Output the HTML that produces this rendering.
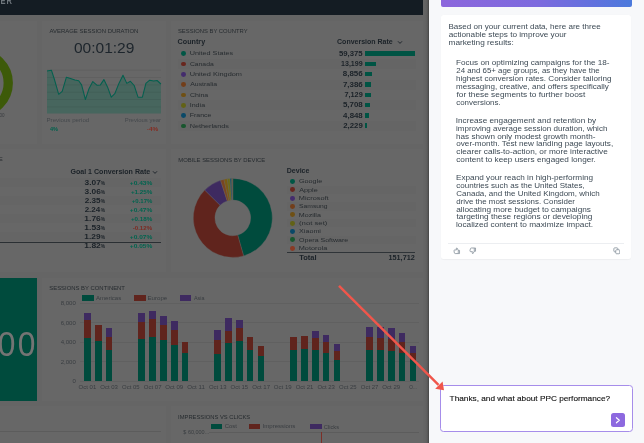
<!DOCTYPE html>
<html><head><meta charset="utf-8"><title>Dashboard</title>
<style>
html,body{margin:0;padding:0;background:#f7f8fa;}
#root{position:relative;width:644px;height:443px;overflow:hidden;font-family:"Liberation Sans",sans-serif;}
.r{position:absolute;display:block;}
.t{position:absolute;white-space:nowrap;display:block;}
</style></head><body><div id="root">
<div class="r" style="left:0.00px;top:0.00px;width:429.00px;height:443.00px;background:#656565;"></div>
<div class="r" style="left:0.00px;top:0.00px;width:423.40px;height:14.60px;background:#141c23;"></div>
<span id="t0" class="t" style="left:0px;transform-origin:0 50%;transform:translate(0.40px,0.82px) scaleX(0.7200);top:-6px;font-size:10.5px;line-height:10.5px;font-weight:700;color:#6f767c;letter-spacing:1.6px;">ER</span>
<div class="r" style="left:-5.00px;top:21.00px;width:42.00px;height:123.00px;background:#676767;"></div>
<div class="r" style="left:42.00px;top:21.00px;width:124.00px;height:123.00px;background:#676767;"></div>
<div class="r" style="left:171.00px;top:21.00px;width:252.40px;height:123.00px;background:#676767;"></div>
<div class="r" style="left:-5.00px;top:148.80px;width:171.00px;height:123.00px;background:#676767;"></div>
<div class="r" style="left:171.00px;top:148.80px;width:252.40px;height:123.00px;background:#676767;"></div>
<div class="r" style="left:-5.00px;top:277.70px;width:42.00px;height:123.30px;background:#676767;"></div>
<div class="r" style="left:42.00px;top:277.70px;width:381.40px;height:123.30px;background:#676767;"></div>
<div class="r" style="left:-5.00px;top:406.00px;width:171.00px;height:60.00px;background:#676767;"></div>
<div class="r" style="left:171.00px;top:406.00px;width:252.40px;height:60.00px;background:#676767;"></div>
<svg class="r" style="left:0;top:40px" width="40" height="90" viewBox="0 40 40 90"><circle cx="-21.8" cy="83" r="30.05" fill="none" stroke="#3d5a09" stroke-width="9.3"/></svg>
<span id="t1" class="t" style="left:-1px;transform-origin:0 50%;transform:translate(0.50px,0.53px) scaleX(1.0000);top:113px;font-size:4.5px;line-height:4.5px;font-weight:400;color:#3a3d40;">00</span>
<span id="t2" class="t" style="left:49px;transform-origin:0 50%;transform:translate(0.40px,0.09px) scaleX(0.9648);top:28px;font-size:6.2px;line-height:6.2px;font-weight:400;color:#262b2f;">AVERAGE SESSION DURATION</span>
<span id="t3" class="t" style="left:73px;transform-origin:0 50%;transform:translate(0.90px,0.78px) scaleX(1.0097);top:39px;font-size:15.4px;line-height:15.4px;font-weight:400;color:#1d252c;">00:01:29</span>
<svg class="r" style="left:0;top:0" width="430" height="443" viewBox="0 0 430 443"><polygon points="47.0,71.1 51.4,70.2 54.3,79.0 58.7,94.3 62.2,91.3 66.4,77.2 70.5,78.4 74.9,79.9 78.7,80.8 81.6,84.9 85.4,99.5 89.0,88.7 92.8,81.6 96.9,85.2 100.4,84.9 103.9,79.6 107.5,86.9 111.3,97.2 114.8,93.7 118.9,83.4 123.0,75.2 126.8,83.4 130.4,81.3 134.2,85.5 138.0,97.2 142.4,97.2 145.9,83.4 149.7,80.2 153.6,81.1 157.1,80.5 160.9,84.0 161,113.4 47,113.4" fill="#47665e"/><line x1="47" x2="161" y1="70.2" y2="70.2" stroke="#000" stroke-opacity="0.09" stroke-width="0.7"/><line x1="47" x2="161" y1="77.5" y2="77.5" stroke="#000" stroke-opacity="0.09" stroke-width="0.7"/><line x1="47" x2="161" y1="84.9" y2="84.9" stroke="#000" stroke-opacity="0.09" stroke-width="0.7"/><line x1="47" x2="161" y1="92.2" y2="92.2" stroke="#000" stroke-opacity="0.09" stroke-width="0.7"/><line x1="47" x2="161" y1="99.5" y2="99.5" stroke="#000" stroke-opacity="0.09" stroke-width="0.7"/><line x1="47" x2="161" y1="106.9" y2="106.9" stroke="#000" stroke-opacity="0.09" stroke-width="0.7"/><polyline points="47.0,71.1 51.4,70.2 54.3,79.0 58.7,94.3 62.2,91.3 66.4,77.2 70.5,78.4 74.9,79.9 78.7,80.8 81.6,84.9 85.4,99.5 89.0,88.7 92.8,81.6 96.9,85.2 100.4,84.9 103.9,79.6 107.5,86.9 111.3,97.2 114.8,93.7 118.9,83.4 123.0,75.2 126.8,83.4 130.4,81.3 134.2,85.5 138.0,97.2 142.4,97.2 145.9,83.4 149.7,80.2 153.6,81.1 157.1,80.5 160.9,84.0" fill="none" stroke="#04604f" stroke-width="1.05" stroke-linejoin="round"/></svg>
<span id="t4" class="t" style="left:46px;transform-origin:0 50%;transform:translate(0.50px,0.67px) scaleX(1.1004);top:117px;font-size:5.6px;line-height:5.6px;font-weight:400;color:#45494d;">Previous period</span>
<span id="t5" class="t" style="right:484px;transform-origin:100% 50%;transform:translate(0.75px,0.67px) scaleX(1.0602);top:117px;font-size:5.6px;line-height:5.6px;font-weight:400;color:#45494d;">Previous year</span>
<span id="t6" class="t" style="left:50px;transform-origin:0 50%;transform:translate(0.00px,0.12px) scaleX(0.9921);top:127px;font-size:5.6px;line-height:5.6px;font-weight:700;color:#00614d;">4%</span>
<span id="t7" class="t" style="right:486px;transform-origin:100% 50%;transform:translate(0.25px,0.12px) scaleX(1.1478);top:127px;font-size:5.6px;line-height:5.6px;font-weight:700;color:#852c22;">-4%</span>
<span id="t8" class="t" style="left:177px;transform-origin:0 50%;transform:translate(0.95px,0.09px) scaleX(0.9453);top:28px;font-size:6.2px;line-height:6.2px;font-weight:400;color:#262b2f;">SESSIONS BY COUNTRY</span>
<span id="t9" class="t" style="left:177px;transform-origin:0 50%;transform:translate(0.60px,0.33px) scaleX(1.1407);top:39px;font-size:6.3px;line-height:6.3px;font-weight:700;color:#1b2228;">Country</span>
<span id="t10" class="t" style="left:337px;transform-origin:0 50%;transform:translate(0.05px,0.72px) scaleX(1.1132);top:38px;font-size:6.3px;line-height:6.3px;font-weight:700;color:#1b2228;">Conversion Rate</span>
<svg class="r" style="left:396.5px;top:39.6px" width="6" height="5" viewBox="0 0 6 5"><path d="M1 1.3 L3 3.4 L5 1.3" fill="none" stroke="#1b2228" stroke-width="0.95"/></svg>
<div class="r" style="left:181.1px;top:51.30px;width:4.8px;height:4.8px;border-radius:50%;background:#005645"></div>
<span id="t11" class="t" style="left:189px;transform-origin:0 50%;transform:translate(0.70px,0.46px) scaleX(1.2704);top:51px;font-size:5.7px;line-height:5.7px;font-weight:400;color:#262b2f;">United States</span>
<span id="t12" class="t" style="right:282px;transform-origin:100% 50%;transform:translate(0.20px,0.92px) scaleX(1.1036);top:49px;font-size:7px;line-height:7px;font-weight:700;color:#1b2228;">59,375</span>
<div class="r" style="left:365.00px;top:51.25px;width:49.80px;height:4.50px;background:#005444;"></div>
<div class="r" style="left:178.00px;top:58.92px;width:238.00px;height:10.30px;background:#656565;"></div>
<div class="r" style="left:181.1px;top:61.62px;width:4.8px;height:4.8px;border-radius:50%;background:#68261e"></div>
<span id="t13" class="t" style="left:189px;transform-origin:0 50%;transform:translate(0.95px,0.67px) scaleX(1.1901);top:61px;font-size:5.7px;line-height:5.7px;font-weight:400;color:#262b2f;">Canada</span>
<span id="t14" class="t" style="right:282px;transform-origin:100% 50%;transform:translate(0.20px,0.88px) scaleX(1.0056);top:59px;font-size:7px;line-height:7px;font-weight:700;color:#1b2228;">13,199</span>
<div class="r" style="left:365.00px;top:61.57px;width:11.00px;height:4.50px;background:#005444;"></div>
<div class="r" style="left:181.1px;top:71.94px;width:4.8px;height:4.8px;border-radius:50%;background:#442c6d"></div>
<span id="t15" class="t" style="left:189px;transform-origin:0 50%;transform:translate(0.70px,0.97px) scaleX(1.2923);top:71px;font-size:5.7px;line-height:5.7px;font-weight:400;color:#262b2f;">United Kingdom</span>
<span id="t16" class="t" style="right:281px;transform-origin:100% 50%;transform:translate(0.20px,0.44px) scaleX(1.1377);top:70px;font-size:7px;line-height:7px;font-weight:700;color:#1b2228;">8,856</span>
<div class="r" style="left:365.00px;top:71.89px;width:7.40px;height:4.50px;background:#005444;"></div>
<div class="r" style="left:178.00px;top:79.56px;width:238.00px;height:10.30px;background:#656565;"></div>
<div class="r" style="left:181.1px;top:82.26px;width:4.8px;height:4.8px;border-radius:50%;background:#723e1a"></div>
<span id="t17" class="t" style="left:190px;transform-origin:0 50%;transform:translate(0.20px,0.17px) scaleX(1.2151);top:82px;font-size:5.7px;line-height:5.7px;font-weight:400;color:#262b2f;">Australia</span>
<span id="t18" class="t" style="right:281px;transform-origin:100% 50%;transform:translate(0.20px,0.76px) scaleX(1.1322);top:80px;font-size:7px;line-height:7px;font-weight:700;color:#1b2228;">7,386</span>
<div class="r" style="left:365.00px;top:82.21px;width:6.20px;height:4.50px;background:#005444;"></div>
<div class="r" style="left:181.1px;top:92.58px;width:4.8px;height:4.8px;border-radius:50%;background:#6f5014"></div>
<span id="t19" class="t" style="left:189px;transform-origin:0 50%;transform:translate(0.95px,0.86px) scaleX(1.2288);top:92px;font-size:5.7px;line-height:5.7px;font-weight:400;color:#262b2f;">China</span>
<span id="t20" class="t" style="right:281px;transform-origin:100% 50%;transform:translate(0.20px,0.08px) scaleX(1.0405);top:91px;font-size:7px;line-height:7px;font-weight:700;color:#1b2228;">7,129</span>
<div class="r" style="left:365.00px;top:92.53px;width:5.90px;height:4.50px;background:#005444;"></div>
<div class="r" style="left:178.00px;top:100.20px;width:238.00px;height:10.30px;background:#656565;"></div>
<div class="r" style="left:181.1px;top:102.90px;width:4.8px;height:4.8px;border-radius:50%;background:#626216"></div>
<span id="t21" class="t" style="left:189px;transform-origin:0 50%;transform:translate(0.70px,0.94px) scaleX(1.2464);top:102px;font-size:5.7px;line-height:5.7px;font-weight:400;color:#262b2f;">India</span>
<span id="t22" class="t" style="right:281px;transform-origin:100% 50%;transform:translate(0.20px,0.39px) scaleX(1.1322);top:101px;font-size:7px;line-height:7px;font-weight:700;color:#1b2228;">5,708</span>
<div class="r" style="left:365.00px;top:102.85px;width:4.70px;height:4.50px;background:#005444;"></div>
<div class="r" style="left:181.1px;top:113.22px;width:4.8px;height:4.8px;border-radius:50%;background:#0a4968"></div>
<span id="t23" class="t" style="left:189px;transform-origin:0 50%;transform:translate(0.70px,0.31px) scaleX(1.2257);top:113px;font-size:5.7px;line-height:5.7px;font-weight:400;color:#262b2f;">France</span>
<span id="t24" class="t" style="right:281px;transform-origin:100% 50%;transform:translate(0.20px,0.60px) scaleX(1.1202);top:111px;font-size:7px;line-height:7px;font-weight:700;color:#1b2228;">4,848</span>
<div class="r" style="left:365.00px;top:113.17px;width:3.80px;height:4.50px;background:#005444;"></div>
<div class="r" style="left:178.00px;top:120.84px;width:238.00px;height:10.30px;background:#656565;"></div>
<div class="r" style="left:181.1px;top:123.54px;width:4.8px;height:4.8px;border-radius:50%;background:#18562e"></div>
<span id="t25" class="t" style="left:189px;transform-origin:0 50%;transform:translate(0.70px,0.70px) scaleX(1.2761);top:123px;font-size:5.7px;line-height:5.7px;font-weight:400;color:#262b2f;">Netherlands</span>
<span id="t26" class="t" style="right:281px;transform-origin:100% 50%;transform:translate(0.20px,0.92px) scaleX(1.1086);top:121px;font-size:7px;line-height:7px;font-weight:700;color:#1b2228;">2,229</span>
<div class="r" style="left:365.00px;top:123.49px;width:1.80px;height:4.50px;background:#005444;"></div>
<span id="t27" class="t" style="left:-2px;transform-origin:0 50%;transform:translate(0.80px,0.10px) scaleX(1.0000);top:156px;font-size:6px;line-height:6px;font-weight:400;color:#262b2f;">E</span>
<span id="t28" class="t" style="left:70px;transform-origin:0 50%;transform:translate(0.40px,0.68px) scaleX(1.1238);top:168px;font-size:6.3px;line-height:6.3px;font-weight:700;color:#1b2228;">Goal 1 Conversion Rate</span>
<svg class="r" style="left:151.6px;top:169.8px" width="6" height="5" viewBox="0 0 6 5"><path d="M1 1.3 L3 3.4 L5 1.3" fill="none" stroke="#1b2228" stroke-width="0.95"/></svg>
<div class="r" style="left:0.00px;top:178.10px;width:161.00px;height:9.00px;background:#656565;"></div>
<span id="t29" class="t" style="right:540px;transform-origin:100% 50%;transform:translate(0.75px,0.88px) scaleX(0.8120);top:179px;font-size:6px;line-height:6px;font-weight:700;color:#1b2228;">%</span>
<span id="t30" class="t" style="right:544px;transform-origin:100% 50%;transform:translate(0.80px,0.19px) scaleX(1.1589);top:179px;font-size:7.2px;line-height:7.2px;font-weight:700;color:#1b2228;">3.07</span>
<span id="t31" class="t" style="right:492px;transform-origin:100% 50%;transform:translate(0.15px,0.82px) scaleX(1.1738);top:180px;font-size:5.6px;line-height:5.6px;font-weight:700;color:#00644f;">+0.43%</span>
<span id="t32" class="t" style="right:540px;transform-origin:100% 50%;transform:translate(0.75px,0.98px) scaleX(0.8120);top:188px;font-size:6px;line-height:6px;font-weight:700;color:#1b2228;">%</span>
<span id="t33" class="t" style="right:544px;transform-origin:100% 50%;transform:translate(0.80px,0.05px) scaleX(1.1571);top:188px;font-size:7.2px;line-height:7.2px;font-weight:700;color:#1b2228;">3.06</span>
<span id="t34" class="t" style="right:492px;transform-origin:100% 50%;transform:translate(0.15px,0.92px) scaleX(1.1178);top:189px;font-size:5.6px;line-height:5.6px;font-weight:700;color:#00644f;">+1.25%</span>
<div class="r" style="left:0.00px;top:196.30px;width:161.00px;height:9.00px;background:#656565;"></div>
<span id="t35" class="t" style="right:540px;transform-origin:100% 50%;transform:translate(0.75px,0.08px) scaleX(0.8120);top:198px;font-size:6px;line-height:6px;font-weight:700;color:#1b2228;">%</span>
<span id="t36" class="t" style="right:544px;transform-origin:100% 50%;transform:translate(0.55px,0.27px) scaleX(1.1374);top:197px;font-size:7.2px;line-height:7.2px;font-weight:700;color:#1b2228;">2.35</span>
<span id="t37" class="t" style="right:492px;transform-origin:100% 50%;transform:translate(0.15px,0.02px) scaleX(1.0672);top:199px;font-size:5.6px;line-height:5.6px;font-weight:700;color:#00644f;">+0.17%</span>
<span id="t38" class="t" style="right:540px;transform-origin:100% 50%;transform:translate(0.75px,0.18px) scaleX(0.8120);top:207px;font-size:6px;line-height:6px;font-weight:700;color:#1b2228;">%</span>
<span id="t39" class="t" style="right:544px;transform-origin:100% 50%;transform:translate(0.30px,0.25px) scaleX(1.1186);top:206px;font-size:7.2px;line-height:7.2px;font-weight:700;color:#1b2228;">2.24</span>
<span id="t40" class="t" style="right:492px;transform-origin:100% 50%;transform:translate(0.15px,0.12px) scaleX(1.1738);top:208px;font-size:5.6px;line-height:5.6px;font-weight:700;color:#00644f;">+0.47%</span>
<div class="r" style="left:0.00px;top:214.30px;width:161.00px;height:9.00px;background:#656565;"></div>
<span id="t41" class="t" style="right:540px;transform-origin:100% 50%;transform:translate(0.75px,0.08px) scaleX(0.8120);top:216px;font-size:6px;line-height:6px;font-weight:700;color:#1b2228;">%</span>
<span id="t42" class="t" style="right:544px;transform-origin:100% 50%;transform:translate(0.80px,0.17px) scaleX(1.1759);top:215px;font-size:7.2px;line-height:7.2px;font-weight:700;color:#1b2228;">1.76</span>
<span id="t43" class="t" style="right:492px;transform-origin:100% 50%;transform:translate(0.15px,0.02px) scaleX(1.1178);top:217px;font-size:5.6px;line-height:5.6px;font-weight:700;color:#00644f;">+0.18%</span>
<span id="t44" class="t" style="right:540px;transform-origin:100% 50%;transform:translate(0.75px,0.98px) scaleX(0.8120);top:224px;font-size:6px;line-height:6px;font-weight:700;color:#1b2228;">%</span>
<span id="t45" class="t" style="right:544px;transform-origin:100% 50%;transform:translate(0.80px,0.89px) scaleX(1.1759);top:223px;font-size:7.2px;line-height:7.2px;font-weight:700;color:#1b2228;">1.53</span>
<span id="t46" class="t" style="right:492px;transform-origin:100% 50%;transform:translate(0.40px,0.92px) scaleX(1.0946);top:225px;font-size:5.6px;line-height:5.6px;font-weight:700;color:#7d2a22;">-0.12%</span>
<div class="r" style="left:0.00px;top:232.20px;width:161.00px;height:9.00px;background:#656565;"></div>
<span id="t47" class="t" style="right:540px;transform-origin:100% 50%;transform:translate(0.75px,0.98px) scaleX(0.8120);top:233px;font-size:6px;line-height:6px;font-weight:700;color:#1b2228;">%</span>
<span id="t48" class="t" style="right:544px;transform-origin:100% 50%;transform:translate(0.55px,0.05px) scaleX(1.1566);top:233px;font-size:7.2px;line-height:7.2px;font-weight:700;color:#1b2228;">1.29</span>
<span id="t49" class="t" style="right:492px;transform-origin:100% 50%;transform:translate(0.15px,0.92px) scaleX(1.1738);top:234px;font-size:5.6px;line-height:5.6px;font-weight:700;color:#00644f;">+0.07%</span>
<span id="t50" class="t" style="right:540px;transform-origin:100% 50%;transform:translate(0.75px,0.48px) scaleX(0.8120);top:243px;font-size:6px;line-height:6px;font-weight:700;color:#1b2228;">%</span>
<span id="t51" class="t" style="right:544px;transform-origin:100% 50%;transform:translate(0.80px,0.42px) scaleX(1.1759);top:242px;font-size:7.2px;line-height:7.2px;font-weight:700;color:#1b2228;">1.82</span>
<span id="t52" class="t" style="right:492px;transform-origin:100% 50%;transform:translate(0.15px,0.42px) scaleX(1.1738);top:244px;font-size:5.6px;line-height:5.6px;font-weight:700;color:#00644f;">+0.05%</span>
<div class="r" style="left:0.00px;top:241.50px;width:161.00px;height:0.90px;background:#2a2f33;"></div>
<span id="t53" class="t" style="left:178px;transform-origin:0 50%;transform:translate(0.25px,0.79px) scaleX(0.9518);top:156px;font-size:6.2px;line-height:6.2px;font-weight:400;color:#262b2f;">MOBILE SESSIONS BY DEVICE</span>
<svg class="r" style="left:0;top:0" width="430" height="443" viewBox="0 0 430 443"><path d="M232.80 178.40 A39.50 39.50 0 0 1 243.62 255.89 L237.70 235.12 A17.90 17.90 0 0 0 232.80 200.00 Z" fill="#004b3d" stroke="#686868" stroke-width="0.35"/><path d="M243.62 255.89 A39.50 39.50 0 0 1 204.72 190.12 L220.08 205.31 A17.90 17.90 0 0 0 237.70 235.12 Z" fill="#60241d" stroke="#686868" stroke-width="0.35"/><path d="M204.72 190.12 A39.50 39.50 0 0 1 220.53 180.35 L227.24 200.89 A17.90 17.90 0 0 0 220.08 205.31 Z" fill="#3e2a60" stroke="#686868" stroke-width="0.35"/><path d="M220.53 180.35 A39.50 39.50 0 0 1 223.91 179.41 L228.77 200.46 A17.90 17.90 0 0 0 227.24 200.89 Z" fill="#7a4520" stroke="#686868" stroke-width="0.35"/><path d="M223.91 179.41 A39.50 39.50 0 0 1 227.30 178.78 L230.31 200.17 A17.90 17.90 0 0 0 228.77 200.46 Z" fill="#7a5a12" stroke="#686868" stroke-width="0.35"/><path d="M227.30 178.78 A39.50 39.50 0 0 1 230.04 178.50 L231.55 200.04 A17.90 17.90 0 0 0 230.31 200.17 Z" fill="#6a6a16" stroke="#686868" stroke-width="0.35"/><path d="M230.04 178.50 A39.50 39.50 0 0 1 231.42 178.42 L232.18 200.01 A17.90 17.90 0 0 0 231.55 200.04 Z" fill="#0b4a6a" stroke="#686868" stroke-width="0.35"/><path d="M231.42 178.42 A39.50 39.50 0 0 1 232.25 178.40 L232.55 200.00 A17.90 17.90 0 0 0 232.18 200.01 Z" fill="#1f5a30" stroke="#686868" stroke-width="0.35"/><path d="M232.25 178.40 A39.50 39.50 0 0 1 232.80 178.40 L232.80 200.00 A17.90 17.90 0 0 0 232.55 200.00 Z" fill="#7a3a22" stroke="#686868" stroke-width="0.35"/></svg>
<span id="t54" class="t" style="left:286px;transform-origin:0 50%;transform:translate(0.75px,0.25px) scaleX(1.1164);top:168px;font-size:6.3px;line-height:6.3px;font-weight:700;color:#1b2228;">Device</span>
<div class="r" style="left:290.3px;top:179.10px;width:4.8px;height:4.8px;border-radius:50%;background:#005645"></div>
<span id="t55" class="t" style="left:299px;transform-origin:0 50%;transform:translate(0.00px,0.25px) scaleX(1.2432);top:179px;font-size:5.8px;line-height:5.8px;font-weight:400;color:#262b2f;">Google</span>
<div class="r" style="left:287.00px;top:185.64px;width:129.00px;height:8.30px;background:#656565;"></div>
<div class="r" style="left:290.3px;top:187.44px;width:4.8px;height:4.8px;border-radius:50%;background:#68261e"></div>
<span id="t56" class="t" style="left:299px;transform-origin:0 50%;transform:translate(0.25px,0.68px) scaleX(1.2416);top:187px;font-size:5.8px;line-height:5.8px;font-weight:400;color:#262b2f;">Apple</span>
<div class="r" style="left:290.3px;top:195.78px;width:4.8px;height:4.8px;border-radius:50%;background:#442c6d"></div>
<span id="t57" class="t" style="left:298px;transform-origin:0 50%;transform:translate(0.75px,0.34px) scaleX(1.2685);top:196px;font-size:5.8px;line-height:5.8px;font-weight:400;color:#262b2f;">Microsoft</span>
<div class="r" style="left:287.00px;top:202.32px;width:129.00px;height:8.30px;background:#656565;"></div>
<div class="r" style="left:290.3px;top:204.12px;width:4.8px;height:4.8px;border-radius:50%;background:#723e1a"></div>
<span id="t58" class="t" style="left:299px;transform-origin:0 50%;transform:translate(0.00px,0.36px) scaleX(1.1643);top:204px;font-size:5.8px;line-height:5.8px;font-weight:400;color:#262b2f;">Samsung</span>
<div class="r" style="left:290.3px;top:212.46px;width:4.8px;height:4.8px;border-radius:50%;background:#6f5014"></div>
<span id="t59" class="t" style="left:298px;transform-origin:0 50%;transform:translate(0.75px,0.02px) scaleX(1.2277);top:213px;font-size:5.8px;line-height:5.8px;font-weight:400;color:#262b2f;">Mozilla</span>
<div class="r" style="left:287.00px;top:219.00px;width:129.00px;height:8.30px;background:#656565;"></div>
<div class="r" style="left:290.3px;top:220.80px;width:4.8px;height:4.8px;border-radius:50%;background:#626216"></div>
<span id="t60" class="t" style="left:299px;transform-origin:0 50%;transform:translate(0.00px,0.20px) scaleX(1.3360);top:221px;font-size:5.8px;line-height:5.8px;font-weight:400;color:#262b2f;">(not set)</span>
<div class="r" style="left:290.3px;top:229.14px;width:4.8px;height:4.8px;border-radius:50%;background:#0a4968"></div>
<span id="t61" class="t" style="left:299px;transform-origin:0 50%;transform:translate(0.00px,0.52px) scaleX(1.2400);top:228px;font-size:5.8px;line-height:5.8px;font-weight:400;color:#262b2f;">Xiaomi</span>
<div class="r" style="left:287.00px;top:235.68px;width:129.00px;height:8.30px;background:#656565;"></div>
<div class="r" style="left:290.3px;top:237.48px;width:4.8px;height:4.8px;border-radius:50%;background:#18562e"></div>
<span id="t62" class="t" style="left:299px;transform-origin:0 50%;transform:translate(0.00px,0.88px) scaleX(1.2132);top:237px;font-size:5.8px;line-height:5.8px;font-weight:400;color:#262b2f;">Opera Software</span>
<div class="r" style="left:290.3px;top:245.82px;width:4.8px;height:4.8px;border-radius:50%;background:#8a3a24"></div>
<span id="t63" class="t" style="left:298px;transform-origin:0 50%;transform:translate(0.75px,0.13px) scaleX(1.2619);top:246px;font-size:5.8px;line-height:5.8px;font-weight:400;color:#262b2f;">Motorola</span>
<div class="r" style="left:287.10px;top:252.20px;width:128.40px;height:1.00px;background:#2f3438;"></div>
<span id="t64" class="t" style="left:299px;transform-origin:0 50%;transform:translate(0.25px,0.71px) scaleX(1.1690);top:254px;font-size:6.4px;line-height:6.4px;font-weight:700;color:#1b2228;">Total</span>
<span id="t65" class="t" style="right:230px;transform-origin:100% 50%;transform:translate(0.60px,0.87px) scaleX(1.1319);top:254px;font-size:6.4px;line-height:6.4px;font-weight:700;color:#1b2228;">151,712</span>
<div class="r" style="left:0.00px;top:277.70px;width:37.10px;height:123.30px;background:#004b3d;"></div>
<span id="t66" class="t" style="left:17px;transform-origin:0 50%;transform:translate(0.65px,0.49px) scaleX(0.9093);top:326px;font-size:35px;line-height:35px;font-weight:400;color:#747474;">0</span>
<span id="t67" class="t" style="left:-3px;transform-origin:0 50%;transform:translate(0.85px,0.49px) scaleX(0.9093);top:326px;font-size:35px;line-height:35px;font-weight:400;color:#747474;">0</span>
<span id="t68" class="t" style="left:49px;transform-origin:0 50%;transform:translate(0.25px,0.39px) scaleX(0.9547);top:285px;font-size:6.2px;line-height:6.2px;font-weight:400;color:#262b2f;">SESSIONS BY CONTINENT</span>
<div class="r" style="left:82.00px;top:295.00px;width:11.60px;height:6.00px;background:#004b3d;"></div>
<span id="t69" class="t" style="left:96px;transform-origin:0 50%;transform:translate(0.00px,0.53px) scaleX(1.1204);top:295px;font-size:5.4px;line-height:5.4px;font-weight:400;color:#393d41;">Americas</span>
<div class="r" style="left:134.00px;top:295.00px;width:11.60px;height:6.00px;background:#60241d;"></div>
<span id="t70" class="t" style="left:147px;transform-origin:0 50%;transform:translate(0.50px,0.53px) scaleX(1.1360);top:295px;font-size:5.4px;line-height:5.4px;font-weight:400;color:#393d41;">Europe</span>
<div class="r" style="left:179.50px;top:295.00px;width:11.60px;height:6.00px;background:#3e2a60;"></div>
<span id="t71" class="t" style="left:194px;transform-origin:0 50%;transform:translate(0.00px,0.53px) scaleX(0.9978);top:295px;font-size:5.4px;line-height:5.4px;font-weight:400;color:#393d41;">Asia</span>
<span id="t72" class="t" style="right:569px;transform-origin:100% 50%;transform:translate(0.25px,0.98px) scaleX(1.1200);top:300px;font-size:5.4px;line-height:5.4px;font-weight:400;color:#393d41;">8,000</span>
<div class="r" style="left:80.00px;top:302.90px;width:339.00px;height:0.60px;background:#606060;"></div>
<span id="t73" class="t" style="right:569px;transform-origin:100% 50%;transform:translate(0.25px,0.38px) scaleX(1.1200);top:321px;font-size:5.4px;line-height:5.4px;font-weight:400;color:#393d41;">6,000</span>
<div class="r" style="left:80.00px;top:322.30px;width:339.00px;height:0.60px;background:#606060;"></div>
<span id="t74" class="t" style="right:569px;transform-origin:100% 50%;transform:translate(0.25px,0.88px) scaleX(1.1200);top:339px;font-size:5.4px;line-height:5.4px;font-weight:400;color:#393d41;">4,000</span>
<div class="r" style="left:80.00px;top:341.80px;width:339.00px;height:0.60px;background:#606060;"></div>
<span id="t75" class="t" style="right:569px;transform-origin:100% 50%;transform:translate(0.25px,0.48px) scaleX(1.1200);top:360px;font-size:5.4px;line-height:5.4px;font-weight:400;color:#393d41;">2,000</span>
<div class="r" style="left:80.00px;top:361.40px;width:339.00px;height:0.60px;background:#606060;"></div>
<span id="t76" class="t" style="right:569px;transform-origin:100% 50%;transform:translate(0.75px,0.08px) scaleX(1.1200);top:379px;font-size:5.4px;line-height:5.4px;font-weight:400;color:#393d41;">0</span>
<div class="r" style="left:80.00px;top:381.00px;width:339.00px;height:0.60px;background:#606060;"></div>
<div class="r" style="left:84.20px;top:313.20px;width:6.50px;height:67.70px;background:#3e2a60;"></div>
<div class="r" style="left:84.20px;top:320.30px;width:6.50px;height:60.60px;background:#60241d;"></div>
<div class="r" style="left:84.20px;top:337.60px;width:6.50px;height:43.30px;background:#004b3d;"></div>
<div class="r" style="left:95.05px;top:324.90px;width:6.50px;height:56.00px;background:#60241d;"></div>
<div class="r" style="left:95.05px;top:341.40px;width:6.50px;height:39.50px;background:#004b3d;"></div>
<div class="r" style="left:105.90px;top:327.60px;width:6.50px;height:53.30px;background:#3e2a60;"></div>
<div class="r" style="left:105.90px;top:336.50px;width:6.50px;height:44.40px;background:#60241d;"></div>
<div class="r" style="left:105.90px;top:350.30px;width:6.50px;height:30.60px;background:#004b3d;"></div>
<div class="r" style="left:138.45px;top:313.20px;width:6.50px;height:67.70px;background:#3e2a60;"></div>
<div class="r" style="left:138.45px;top:321.60px;width:6.50px;height:59.30px;background:#60241d;"></div>
<div class="r" style="left:138.45px;top:339.20px;width:6.50px;height:41.70px;background:#004b3d;"></div>
<div class="r" style="left:149.30px;top:310.50px;width:6.50px;height:70.40px;background:#3e2a60;"></div>
<div class="r" style="left:149.30px;top:319.20px;width:6.50px;height:61.70px;background:#60241d;"></div>
<div class="r" style="left:149.30px;top:337.00px;width:6.50px;height:43.90px;background:#004b3d;"></div>
<div class="r" style="left:160.15px;top:315.90px;width:6.50px;height:65.00px;background:#3e2a60;"></div>
<div class="r" style="left:160.15px;top:324.60px;width:6.50px;height:56.30px;background:#60241d;"></div>
<div class="r" style="left:160.15px;top:340.30px;width:6.50px;height:40.60px;background:#004b3d;"></div>
<div class="r" style="left:171.00px;top:321.00px;width:6.50px;height:59.90px;background:#3e2a60;"></div>
<div class="r" style="left:171.00px;top:330.30px;width:6.50px;height:50.60px;background:#60241d;"></div>
<div class="r" style="left:171.00px;top:344.60px;width:6.50px;height:36.30px;background:#004b3d;"></div>
<div class="r" style="left:181.85px;top:342.00px;width:6.50px;height:38.90px;background:#60241d;"></div>
<div class="r" style="left:181.85px;top:352.50px;width:6.50px;height:28.40px;background:#004b3d;"></div>
<div class="r" style="left:214.40px;top:330.00px;width:6.50px;height:50.90px;background:#3e2a60;"></div>
<div class="r" style="left:214.40px;top:339.50px;width:6.50px;height:41.40px;background:#60241d;"></div>
<div class="r" style="left:214.40px;top:354.10px;width:6.50px;height:26.80px;background:#004b3d;"></div>
<div class="r" style="left:225.25px;top:317.50px;width:6.50px;height:63.40px;background:#3e2a60;"></div>
<div class="r" style="left:225.25px;top:330.60px;width:6.50px;height:50.30px;background:#60241d;"></div>
<div class="r" style="left:225.25px;top:343.30px;width:6.50px;height:37.60px;background:#004b3d;"></div>
<div class="r" style="left:236.10px;top:320.30px;width:6.50px;height:60.60px;background:#3e2a60;"></div>
<div class="r" style="left:236.10px;top:328.10px;width:6.50px;height:52.80px;background:#60241d;"></div>
<div class="r" style="left:236.10px;top:340.90px;width:6.50px;height:40.00px;background:#004b3d;"></div>
<div class="r" style="left:246.95px;top:336.80px;width:6.50px;height:44.10px;background:#60241d;"></div>
<div class="r" style="left:246.95px;top:349.50px;width:6.50px;height:31.40px;background:#004b3d;"></div>
<div class="r" style="left:257.80px;top:345.70px;width:6.50px;height:35.20px;background:#60241d;"></div>
<div class="r" style="left:257.80px;top:356.30px;width:6.50px;height:24.60px;background:#004b3d;"></div>
<div class="r" style="left:290.35px;top:337.30px;width:6.50px;height:43.60px;background:#60241d;"></div>
<div class="r" style="left:290.35px;top:350.30px;width:6.50px;height:30.60px;background:#004b3d;"></div>
<div class="r" style="left:301.20px;top:336.20px;width:6.50px;height:44.70px;background:#60241d;"></div>
<div class="r" style="left:301.20px;top:348.70px;width:6.50px;height:32.20px;background:#004b3d;"></div>
<div class="r" style="left:312.05px;top:331.10px;width:6.50px;height:49.80px;background:#3e2a60;"></div>
<div class="r" style="left:312.05px;top:338.10px;width:6.50px;height:42.80px;background:#60241d;"></div>
<div class="r" style="left:312.05px;top:350.30px;width:6.50px;height:30.60px;background:#004b3d;"></div>
<div class="r" style="left:322.90px;top:334.60px;width:6.50px;height:46.30px;background:#3e2a60;"></div>
<div class="r" style="left:322.90px;top:341.90px;width:6.50px;height:39.00px;background:#60241d;"></div>
<div class="r" style="left:322.90px;top:352.50px;width:6.50px;height:28.40px;background:#004b3d;"></div>
<div class="r" style="left:333.75px;top:344.40px;width:6.50px;height:36.50px;background:#3e2a60;"></div>
<div class="r" style="left:333.75px;top:351.40px;width:6.50px;height:29.50px;background:#60241d;"></div>
<div class="r" style="left:333.75px;top:359.50px;width:6.50px;height:21.40px;background:#004b3d;"></div>
<div class="r" style="left:366.30px;top:327.30px;width:6.50px;height:53.60px;background:#3e2a60;"></div>
<div class="r" style="left:366.30px;top:337.30px;width:6.50px;height:43.60px;background:#60241d;"></div>
<div class="r" style="left:366.30px;top:349.50px;width:6.50px;height:31.40px;background:#004b3d;"></div>
<div class="r" style="left:377.15px;top:326.50px;width:6.50px;height:54.40px;background:#3e2a60;"></div>
<div class="r" style="left:377.15px;top:337.90px;width:6.50px;height:43.00px;background:#60241d;"></div>
<div class="r" style="left:377.15px;top:349.50px;width:6.50px;height:31.40px;background:#004b3d;"></div>
<div class="r" style="left:388.00px;top:328.10px;width:6.50px;height:52.80px;background:#3e2a60;"></div>
<div class="r" style="left:388.00px;top:339.00px;width:6.50px;height:41.90px;background:#60241d;"></div>
<div class="r" style="left:388.00px;top:351.40px;width:6.50px;height:29.50px;background:#004b3d;"></div>
<div class="r" style="left:398.85px;top:332.70px;width:6.50px;height:48.20px;background:#3e2a60;"></div>
<div class="r" style="left:398.85px;top:341.90px;width:6.50px;height:39.00px;background:#60241d;"></div>
<div class="r" style="left:398.85px;top:352.50px;width:6.50px;height:28.40px;background:#004b3d;"></div>
<div class="r" style="left:409.70px;top:346.00px;width:6.50px;height:34.90px;background:#3e2a60;"></div>
<div class="r" style="left:409.70px;top:352.80px;width:6.50px;height:28.10px;background:#60241d;"></div>
<div class="r" style="left:409.70px;top:360.40px;width:6.50px;height:20.50px;background:#004b3d;"></div>
<span id="t77" class="t" style="left:87px;transform:translate(0.41px,0.58px) translateX(-50%) scaleX(1.1089);top:384px;font-size:5.4px;line-height:5.4px;font-weight:400;color:#393d41;">Oct 01</span>
<span id="t78" class="t" style="left:109px;transform:translate(0.09px,0.58px) translateX(-50%) scaleX(1.1052);top:384px;font-size:5.4px;line-height:5.4px;font-weight:400;color:#393d41;">Oct 03</span>
<span id="t79" class="t" style="left:130px;transform:translate(0.88px,0.58px) translateX(-50%) scaleX(1.1044);top:384px;font-size:5.4px;line-height:5.4px;font-weight:400;color:#393d41;">Oct 05</span>
<span id="t80" class="t" style="left:152px;transform:translate(0.61px,0.60px) translateX(-50%) scaleX(1.1217);top:384px;font-size:5.4px;line-height:5.4px;font-weight:400;color:#393d41;">Oct 07</span>
<span id="t81" class="t" style="left:174px;transform:translate(0.27px,0.58px) translateX(-50%) scaleX(1.1224);top:384px;font-size:5.4px;line-height:5.4px;font-weight:400;color:#393d41;">Oct 09</span>
<span id="t82" class="t" style="left:196px;transform:translate(0.01px,0.58px) translateX(-50%) scaleX(1.1426);top:384px;font-size:5.4px;line-height:5.4px;font-weight:400;color:#393d41;">Oct 11</span>
<span id="t83" class="t" style="left:217px;transform:translate(0.68px,0.39px) translateX(-50%) scaleX(1.1048);top:385px;font-size:5.4px;line-height:5.4px;font-weight:400;color:#393d41;">Oct 13</span>
<span id="t84" class="t" style="left:239px;transform:translate(0.32px,0.58px) translateX(-50%) scaleX(1.1048);top:384px;font-size:5.4px;line-height:5.4px;font-weight:400;color:#393d41;">Oct 15</span>
<span id="t85" class="t" style="left:261px;transform:translate(0.11px,0.58px) translateX(-50%) scaleX(1.1217);top:384px;font-size:5.4px;line-height:5.4px;font-weight:400;color:#393d41;">Oct 17</span>
<span id="t86" class="t" style="left:282px;transform:translate(0.77px,0.58px) translateX(-50%) scaleX(1.1224);top:384px;font-size:5.4px;line-height:5.4px;font-weight:400;color:#393d41;">Oct 19</span>
<span id="t87" class="t" style="left:304px;transform:translate(0.49px,0.51px) translateX(-50%) scaleX(1.1086);top:384px;font-size:5.4px;line-height:5.4px;font-weight:400;color:#393d41;">Oct 21</span>
<span id="t88" class="t" style="left:326px;transform:translate(0.17px,0.58px) translateX(-50%) scaleX(1.1048);top:384px;font-size:5.4px;line-height:5.4px;font-weight:400;color:#393d41;">Oct 23</span>
<span id="t89" class="t" style="left:347px;transform:translate(0.88px,0.58px) translateX(-50%) scaleX(1.1044);top:384px;font-size:5.4px;line-height:5.4px;font-weight:400;color:#393d41;">Oct 25</span>
<span id="t90" class="t" style="left:369px;transform:translate(0.62px,0.58px) translateX(-50%) scaleX(1.1055);top:384px;font-size:5.4px;line-height:5.4px;font-weight:400;color:#393d41;">Oct 27</span>
<span id="t91" class="t" style="left:391px;transform:translate(0.27px,0.68px) translateX(-50%) scaleX(1.1224);top:384px;font-size:5.4px;line-height:5.4px;font-weight:400;color:#393d41;">Oct 29</span>
<span id="t92" class="t" style="left:413px;transform:translate(0.12px,0.33px) translateX(-50%) scaleX(0.8744);top:385px;font-size:5.4px;line-height:5.4px;font-weight:400;color:#393d41;">O...</span>
<div class="r" style="left:0.00px;top:431.00px;width:161.00px;height:0.60px;background:#5c5c5c;"></div>
<span id="t93" class="t" style="left:178px;transform-origin:0 50%;transform:translate(0.10px,0.89px) scaleX(0.9365);top:413px;font-size:6.2px;line-height:6.2px;font-weight:400;color:#262b2f;">IMPRESSIONS VS CLICKS</span>
<div class="r" style="left:210.60px;top:424.20px;width:11.50px;height:5.00px;background:#004b3d;"></div>
<span id="t94" class="t" style="left:224px;transform-origin:0 50%;transform:translate(0.75px,0.33px) scaleX(1.0971);top:424px;font-size:5.4px;line-height:5.4px;font-weight:400;color:#393d41;">Cost</span>
<div class="r" style="left:248.50px;top:424.20px;width:11.50px;height:5.00px;background:#60241d;"></div>
<span id="t95" class="t" style="left:262px;transform-origin:0 50%;transform:translate(0.50px,0.33px) scaleX(1.1288);top:424px;font-size:5.4px;line-height:5.4px;font-weight:400;color:#393d41;">Impressions</span>
<div class="r" style="left:310.00px;top:424.20px;width:11.50px;height:5.00px;background:#3e2a60;"></div>
<span id="t96" class="t" style="left:323px;transform-origin:0 50%;transform:translate(0.75px,0.58px) scaleX(1.0661);top:424px;font-size:5.4px;line-height:5.4px;font-weight:400;color:#393d41;">Clicks</span>
<span id="t97" class="t" style="left:183px;transform-origin:0 50%;transform:translate(0.30px,0.64px) scaleX(1.0582);top:429px;font-size:5.2px;line-height:5.2px;font-weight:400;color:#393d41;">$ 60,000...</span>
<div class="r" style="left:209.00px;top:431.70px;width:210.00px;height:0.60px;background:#5c5c5c;"></div>
<div class="r" style="left:320.80px;top:432.00px;width:0.90px;height:11.00px;background:#7d2f27;"></div>
<div class="r" style="left:424px;top:0;width:5px;height:443px;background:linear-gradient(90deg,rgba(0,0,0,0) 0%,rgba(0,0,0,0.04) 45%,rgba(0,0,0,0.14) 75%,rgba(0,0,0,0.34) 100%)"></div>
<div class="r" style="left:428.80px;top:0.00px;width:216.00px;height:443.00px;background:#f7f8fa;"></div>
<div class="r" style="left:441px;top:-3px;width:190.5px;height:10px;border-radius:2px;background:linear-gradient(90deg,#8c66dc 0%,#7d6ade 50%,#6171de 80%,#4b7adc 100%)"></div>
<div class="r" style="left:441px;top:15.2px;width:190.4px;height:244.1px;border-radius:2.5px;background:#fff;box-shadow:0 0.5px 1px rgba(0,0,0,0.04)"></div>
<span id="t98" class="t" style="left:448px;transform-origin:0 50%;transform:translate(0.50px,0.77px) scaleX(1.2036);top:23px;font-size:6.7px;line-height:6.7px;font-weight:400;color:#3d4a55;">Based on your current data, here are three</span>
<span id="t99" class="t" style="left:448px;transform-origin:0 50%;transform:translate(0.75px,0.96px) scaleX(1.2234);top:31px;font-size:6.7px;line-height:6.7px;font-weight:400;color:#3d4a55;">actionable steps to improve your</span>
<span id="t100" class="t" style="left:448px;transform-origin:0 50%;transform:translate(0.50px,0.06px) scaleX(1.2359);top:40px;font-size:6.7px;line-height:6.7px;font-weight:400;color:#3d4a55;">marketing results:</span>
<span id="t101" class="t" style="left:456px;transform-origin:0 50%;transform:translate(0.00px,0.66px) scaleX(1.2180);top:59px;font-size:6.7px;line-height:6.7px;font-weight:400;color:#3d4a55;">Focus on optimizing campaigns for the 18-</span>
<span id="t102" class="t" style="left:456px;transform-origin:0 50%;transform:translate(0.25px,0.77px) scaleX(1.1779);top:67px;font-size:6.7px;line-height:6.7px;font-weight:400;color:#3d4a55;">24 and 65+ age groups, as they have the</span>
<span id="t103" class="t" style="left:456px;transform-origin:0 50%;transform:translate(0.00px,0.77px) scaleX(1.2122);top:75px;font-size:6.7px;line-height:6.7px;font-weight:400;color:#3d4a55;">highest conversion rates. Consider tailoring</span>
<span id="t104" class="t" style="left:456px;transform-origin:0 50%;transform:translate(0.00px,0.77px) scaleX(1.2031);top:83px;font-size:6.7px;line-height:6.7px;font-weight:400;color:#3d4a55;">messaging, creative, and offers specifically</span>
<span id="t105" class="t" style="left:456px;transform-origin:0 50%;transform:translate(0.50px,0.77px) scaleX(1.2417);top:91px;font-size:6.7px;line-height:6.7px;font-weight:400;color:#3d4a55;">for these segments to further boost</span>
<span id="t106" class="t" style="left:456px;transform-origin:0 50%;transform:translate(0.25px,0.77px) scaleX(1.1824);top:99px;font-size:6.7px;line-height:6.7px;font-weight:400;color:#3d4a55;">conversions.</span>
<span id="t107" class="t" style="left:455px;transform-origin:0 50%;transform:translate(0.75px,0.56px) scaleX(1.2261);top:117px;font-size:6.7px;line-height:6.7px;font-weight:400;color:#3d4a55;">Increase engagement and retention by</span>
<span id="t108" class="t" style="left:456px;transform-origin:0 50%;transform:translate(0.00px,0.38px) scaleX(1.1976);top:126px;font-size:6.7px;line-height:6.7px;font-weight:400;color:#3d4a55;">improving average session duration, which</span>
<span id="t109" class="t" style="left:456px;transform-origin:0 50%;transform:translate(0.00px,0.27px) scaleX(1.2175);top:134px;font-size:6.7px;line-height:6.7px;font-weight:400;color:#3d4a55;">has shown only modest growth month-</span>
<span id="t110" class="t" style="left:456px;transform-origin:0 50%;transform:translate(0.25px,0.06px) scaleX(1.2178);top:141px;font-size:6.7px;line-height:6.7px;font-weight:400;color:#3d4a55;">over-month. Test new landing page layouts,</span>
<span id="t111" class="t" style="left:456px;transform-origin:0 50%;transform:translate(0.25px,0.16px) scaleX(1.2350);top:149px;font-size:6.7px;line-height:6.7px;font-weight:400;color:#3d4a55;">clearer calls-to-action, or more interactive</span>
<span id="t112" class="t" style="left:456px;transform-origin:0 50%;transform:translate(0.25px,0.37px) scaleX(1.2269);top:157px;font-size:6.7px;line-height:6.7px;font-weight:400;color:#3d4a55;">content to keep users engaged longer.</span>
<span id="t113" class="t" style="left:456px;transform-origin:0 50%;transform:translate(0.00px,0.56px) scaleX(1.2256);top:174px;font-size:6.7px;line-height:6.7px;font-weight:400;color:#3d4a55;">Expand your reach in high-performing</span>
<span id="t114" class="t" style="left:456px;transform-origin:0 50%;transform:translate(0.25px,0.47px) scaleX(1.2001);top:183px;font-size:6.7px;line-height:6.7px;font-weight:400;color:#3d4a55;">countries such as the United States,</span>
<span id="t115" class="t" style="left:456px;transform-origin:0 50%;transform:translate(0.25px,0.81px) scaleX(1.1987);top:190px;font-size:6.7px;line-height:6.7px;font-weight:400;color:#3d4a55;">Canada, and the United Kingdom, which</span>
<span id="t116" class="t" style="left:456px;transform-origin:0 50%;transform:translate(0.25px,0.37px) scaleX(1.1834);top:199px;font-size:6.7px;line-height:6.7px;font-weight:400;color:#3d4a55;">drive the most sessions. Consider</span>
<span id="t117" class="t" style="left:456px;transform-origin:0 50%;transform:translate(0.25px,0.56px) scaleX(1.2324);top:206px;font-size:6.7px;line-height:6.7px;font-weight:400;color:#3d4a55;">allocating more budget to campaigns</span>
<span id="t118" class="t" style="left:456px;transform-origin:0 50%;transform:translate(0.50px,0.37px) scaleX(1.2350);top:214px;font-size:6.7px;line-height:6.7px;font-weight:400;color:#3d4a55;">targeting these regions or developing</span>
<span id="t119" class="t" style="left:456px;transform-origin:0 50%;transform:translate(0.00px,0.16px) scaleX(1.2380);top:222px;font-size:6.7px;line-height:6.7px;font-weight:400;color:#3d4a55;">localized content to maximize impact.</span>
<div class="r" style="left:448.20px;top:242.80px;width:176.00px;height:0.90px;background:#eceef1;"></div>
<svg class="r" style="left:452.6px;top:247.3px;transform:scaleX(-1)" width="7.6" height="7.6" viewBox="0 0 18 18"><path d="M5.5 8 L8.5 2.2 C9.8 2.2 10.6 3.2 10.3 4.6 L9.8 7 H14 C15.2 7 16 8 15.7 9.2 L14.6 14 C14.4 15 13.6 15.6 12.6 15.6 H5.5 Z M5.5 8 H2.5 V15.6 H5.5" fill="none" stroke="#85909a" stroke-width="1.9" stroke-linejoin="round"/></svg>
<svg class="r" style="left:468.5px;top:246.9px;transform:rotate(180deg)" width="7.6" height="7.6" viewBox="0 0 18 18"><path d="M5.5 8 L8.5 2.2 C9.8 2.2 10.6 3.2 10.3 4.6 L9.8 7 H14 C15.2 7 16 8 15.7 9.2 L14.6 14 C14.4 15 13.6 15.6 12.6 15.6 H5.5 Z M5.5 8 H2.5 V15.6 H5.5" fill="none" stroke="#85909a" stroke-width="1.9" stroke-linejoin="round"/></svg>
<svg class="r" style="left:612.8px;top:247.2px" width="7.6" height="7.6" viewBox="0 0 18 18"><rect x="6.5" y="6.5" width="9.5" height="9.5" rx="2" fill="none" stroke="#85909a" stroke-width="1.9"/><path d="M11.5 6.5 V4 C11.5 2.9 10.6 2 9.5 2 H4 C2.9 2 2 2.9 2 4 V9.5 C2 10.6 2.9 11.5 4 11.5 H6.5" fill="none" stroke="#85909a" stroke-width="1.9"/></svg>
<div class="r" style="left:439.6px;top:385px;width:193.4px;height:46.8px;box-sizing:border-box;border:1.75px solid #a68dea;border-radius:3.5px;background:#fff"></div>
<span id="t120" class="t" style="left:449px;transform-origin:0 50%;transform:translate(0.60px,0.35px) scaleX(1.0311);top:395px;font-size:8px;line-height:8px;font-weight:400;color:#111;-webkit-text-stroke:0.12px #111;">Thanks, and what about PPC performance?</span>
<div class="r" style="left:611.1px;top:413.1px;width:14px;height:14px;border-radius:2.5px;background:#8d69df"></div>
<svg class="r" style="left:611.1px;top:413.1px" width="14" height="14" viewBox="0 0 14 14"><path d="M5.4 4.7 L8.3 7.25 L5.4 9.8" fill="none" stroke="#fff" stroke-width="1.15" stroke-linecap="round" stroke-linejoin="round"/></svg>
<svg class="r" style="left:0;top:0" width="644" height="443" viewBox="0 0 644 443"><line x1="339" y1="285.8" x2="438.5" y2="384.8" stroke="#f0564b" stroke-width="2.4"/><polygon points="444,390.2 442.6,381.6 435.2,388.8" fill="#f0564b"/></svg>
</div></body></html>
